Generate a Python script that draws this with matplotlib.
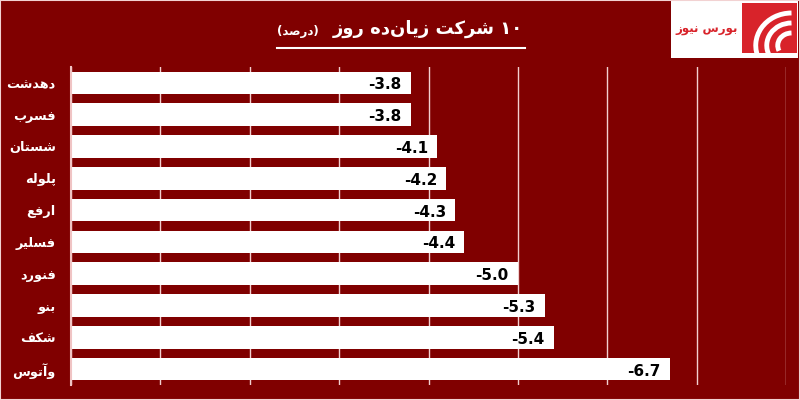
import re
import numpy as np
import matplotlib
matplotlib.use('Agg')
import matplotlib.pyplot as plt
from matplotlib.patches import Rectangle, Arc

# ---------------- data ----------------
categories = ['دهدشت', 'فسرب', 'شستان', 'پلوله', 'ارفع',
              'فسلیر', 'فنورد', 'بنو', 'شکف', 'وآتوس']
values = [-3.8, -3.8, -4.1, -4.2, -4.3, -4.4, -5.0, -5.3, -5.4, -6.7]
title_main = '۱۰ شرکت زیان\u200cده روز'
title_unit = '(درصد)'
logo_text = 'بورس نیوز'

# ------------- minimal Arabic/Persian shaping -------------
FORMS = {
    '\u0622': ('\uFE81', '\uFE82', None, None),
    '\u0627': ('\uFE8D', '\uFE8E', None, None),
    '\u0628': ('\uFE8F', '\uFE90', '\uFE91', '\uFE92'),
    '\u062A': ('\uFE95', '\uFE96', '\uFE97', '\uFE98'),
    '\u062F': ('\uFEA9', '\uFEAA', None, None),
    '\u0631': ('\uFEAD', '\uFEAE', None, None),
    '\u0632': ('\uFEAF', '\uFEB0', None, None),
    '\u0633': ('\uFEB1', '\uFEB2', '\uFEB3', '\uFEB4'),
    '\u0634': ('\uFEB5', '\uFEB6', '\uFEB7', '\uFEB8'),
    '\u0635': ('\uFEB9', '\uFEBA', '\uFEBB', '\uFEBC'),
    '\u0639': ('\uFEC9', '\uFECA', '\uFECB', '\uFECC'),
    '\u0641': ('\uFED1', '\uFED2', '\uFED3', '\uFED4'),
    '\u0644': ('\uFEDD', '\uFEDE', '\uFEDF', '\uFEE0'),
    '\u0646': ('\uFEE5', '\uFEE6', '\uFEE7', '\uFEE8'),
    '\u0647': ('\uFEE9', '\uFEEA', '\uFEEB', '\uFEEC'),
    '\u0648': ('\uFEED', '\uFEEE', None, None),
    '\u067E': ('\uFB56', '\uFB57', '\uFB58', '\uFB59'),
    '\u06A9': ('\uFB8E', '\uFB8F', '\uFB90', '\uFB91'),
    '\u06CC': ('\uFBFC', '\uFBFD', '\uFBFE', '\uFBFF'),
}


def shape(text):
    chars = list(text)
    out = []
    for i, c in enumerate(chars):
        if c not in FORMS:
            out.append(c)
            continue
        prev = chars[i - 1] if i > 0 else None
        nxt = chars[i + 1] if i + 1 < len(chars) else None
        p = prev in FORMS and FORMS[prev][2] is not None
        n = nxt in FORMS and FORMS[c][2] is not None
        iso, fin, ini, med = FORMS[c]
        out.append(med if (p and n) else fin if p else ini if n else iso)
    s = ''.join(out).replace('\u200c', '')
    vis = s[::-1]
    vis = re.sub(r'[0-9\u06F0-\u06F9.]+', lambda m: m.group(0)[::-1], vis)
    return vis.translate(str.maketrans('()', ')('))


BG = '#800000'
W, H = 800, 400
fig = plt.figure(figsize=(8, 4), dpi=100, facecolor=BG)

ax = fig.add_axes([71 / W, 1 - 385 / H, 715 / W, 318 / H])
ax.set_facecolor(BG)
y = np.arange(len(categories))
ax.barh(y, values, height=0.71, color='white', zorder=2)
ax.set_xlim(0, -8)
ax.set_ylim(len(categories) - 0.5, -0.5)
ax.set_xticks(np.arange(0, -9, -1))
ax.set_xticklabels([])
ax.tick_params(axis='x', length=0)
ax.grid(axis='x', color='#f2cfcf', lw=1)
ax.set_axisbelow(True)
for s in ['top', 'right', 'bottom']:
    ax.spines[s].set_visible(False)
ax.spines['left'].set_color('#f0c4c4')
ax.spines['left'].set_linewidth(1.5)
ax.set_yticks(y)
ax.set_yticklabels([shape(c) for c in categories], color='white',
                   fontsize=9.3, fontweight='bold', family='DejaVu Sans')
ax.tick_params(axis='y', length=0, pad=11)

for i, v in enumerate(values):
    ax.annotate(f'{v:.1f}', xy=(v, i), xytext=(-9, -2),
                textcoords='offset pixels', ha='right', va='center',
                fontsize=11, fontweight='bold', color='black', zorder=3)

# title
fig.text(523 / W, 1 - 29 / H, shape(title_main), ha='right', va='center',
         color='white', fontsize=13, fontweight='bold')
fig.text(277 / W, 1 - 31 / H, shape(title_unit), ha='left', va='center',
         color='white', fontsize=8.5, fontweight='bold')
fig.add_artist(plt.Line2D([277 / W, 525 / W], [1 - 48 / H, 1 - 48 / H],
                          color='white', lw=1.5))

# logo
fig.patches.append(Rectangle((671 / W, 1 - 58 / H), 127 / W, 57 / H,
                             transform=fig.transFigure, facecolor='white',
                             edgecolor='none', zorder=1))
fig.text(707 / W, 1 - 29 / H, shape(logo_text), ha='center', va='center',
         color='#d8232a', fontsize=8.5, fontweight='bold', zorder=4)
lax = fig.add_axes([742 / W, 1 - 53 / H, 55 / W, 50 / H])
lax.set_zorder(3)
lax.set_facecolor('#d8232a')
lax.set_xlim(0, 1)
lax.set_ylim(0, 1)
lax.set_xticks([])
lax.set_yticks([])
for sp in lax.spines.values():
    sp.set_visible(False)
for r in [0.25, 0.45, 0.65]:
    lax.add_patch(Arc((0.9, 0.15), 2 * r, 2 * r, theta1=90, theta2=205,
                      color='white', lw=3.5))

# border
fig.patches.append(Rectangle((0, 0), 1, 1, transform=fig.transFigure,
                             fill=False, edgecolor='#f2d2d2', lw=1.5))

fig.savefig('out.png', dpi=100, facecolor=BG)
